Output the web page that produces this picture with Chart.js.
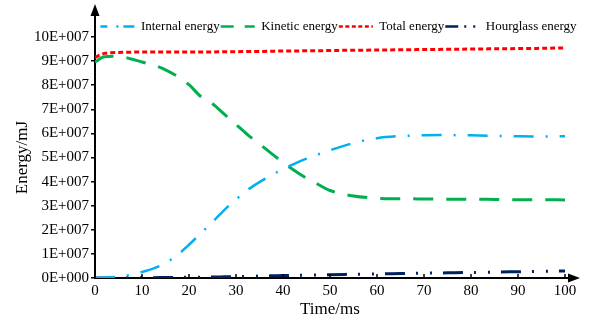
<!DOCTYPE html>
<html>
<head>
<meta charset="utf-8">
<script src="https://cdn.jsdelivr.net/npm/chart.js@4/dist/chart.umd.min.js"></script>
<style>
html,body{margin:0;padding:0;background:#fff;}
#wrap{width:590px;height:324px;position:relative;}
</style>
</head>
<body>
<div id="wrap"><canvas id="c" width="590" height="324"></canvas></div>
<script>
// ---- data (energy in units of 1E+007 mJ) ----
const timeMs = [0, 2, 5, 7.5, 10, 12.5, 15, 17.5, 20, 22.5, 25, 27.5, 30, 32.5, 35, 37.5, 40, 42.5, 45, 47.5, 50, 55, 60, 65, 70, 75, 80, 85, 90, 95, 100];
const internalEnergy = [0, 0.02, 0.05, 0.13, 0.25, 0.4, 0.62, 0.95, 1.38, 1.85, 2.32, 2.82, 3.26, 3.66, 3.98, 4.26, 4.52, 4.75, 4.95, 5.13, 5.3, 5.6, 5.8, 5.89, 5.92, 5.93, 5.92, 5.9, 5.88, 5.87, 5.88];
const kineticEnergy = [8.96, 9.18, 9.2, 9.1, 8.96, 8.83, 8.64, 8.37, 8.02, 7.53, 7.23, 6.8, 6.37, 5.94, 5.56, 5.17, 4.8, 4.45, 4.14, 3.88, 3.63, 3.4, 3.31, 3.29, 3.28, 3.27, 3.27, 3.26, 3.25, 3.25, 3.24];
const totalEnergy = [9.16, 9.32, 9.36, 9.37, 9.38, 9.38, 9.38, 9.38, 9.38, 9.38, 9.38, 9.39, 9.39, 9.4, 9.4, 9.41, 9.42, 9.42, 9.43, 9.43, 9.44, 9.45, 9.46, 9.47, 9.48, 9.49, 9.5, 9.51, 9.52, 9.53, 9.55];
const hourglassEnergy = [0, 0, 0.005, 0.008, 0.01, 0.015, 0.02, 0.025, 0.03, 0.035, 0.04, 0.05, 0.06, 0.07, 0.08, 0.09, 0.1, 0.11, 0.12, 0.13, 0.14, 0.155, 0.17, 0.185, 0.2, 0.215, 0.23, 0.245, 0.26, 0.275, 0.29];
const seriesNames = ['Internal energy', 'Kinetic energy', 'Total energy', 'Hourglass energy'];
const xTickValues = [0, 10, 20, 30, 40, 50, 60, 70, 80, 90, 100];
const yTickLabels = ['0E+000', '1E+007', '2E+007', '3E+007', '4E+007', '5E+007', '6E+007', '7E+007', '8E+007', '9E+007', '10E+007'];

// legend sample dash patterns
const legendDashes = [[7, 9, 2, 5, 11], [13, 11, 10], [4, 2.5], [13, 6, 2, 7, 2, 5, 10]];

const pts = arr => arr.map((v, i) => ({x: timeMs[i], y: v}));
const FONT = "'Liberation Serif', 'Times New Roman', serif";

const axisPlugin = {
  id: 'axisArrows',
  beforeLayout(chart) {
    const lg = chart.legend;
    if (lg && !lg._patched) {
      const orig = lg.fit;
      lg.fit = function () { orig.call(this); this.height = 18; };
      lg._patched = true;
    }
  },
  afterLayout(chart) {
    const lg = chart.legend;
    if (lg) { lg.left += 56; lg.right += 56; }
  },
  afterDraw(chart) {
    const {ctx, chartArea: a} = chart;
    const xs = chart.scales.x;
    ctx.save();
    ctx.strokeStyle = '#000';
    ctx.fillStyle = '#000';
    ctx.lineWidth = 2;
    ctx.setLineDash([]);
    ctx.beginPath();
    ctx.moveTo(a.left, a.top);
    ctx.lineTo(a.left, 12);
    ctx.stroke();
    ctx.beginPath();
    ctx.moveTo(a.left, 4);
    ctx.lineTo(a.left - 4.5, 16);
    ctx.lineTo(a.left + 4.5, 16);
    ctx.closePath();
    ctx.fill();
    ctx.beginPath();
    ctx.moveTo(a.right, a.bottom);
    ctx.lineTo(572, a.bottom);
    ctx.stroke();
    ctx.beginPath();
    ctx.moveTo(580, a.bottom);
    ctx.lineTo(568, a.bottom - 4.5);
    ctx.lineTo(568, a.bottom + 4.5);
    ctx.closePath();
    ctx.fill();
    ctx.lineWidth = 1.5;
    xs.ticks.forEach(t => {
      const px = xs.getPixelForValue(t.value);
      ctx.beginPath();
      ctx.moveTo(px, a.bottom);
      ctx.lineTo(px, a.bottom - 4);
      ctx.stroke();
    });
    ctx.restore();
  }
};

new Chart(document.getElementById('c'), {
  type: 'line',
  data: {
    datasets: [
      {label: seriesNames[0], data: pts(internalEnergy), borderColor: '#00B0F0', backgroundColor: '#00B0F0', borderWidth: 2.5, borderDash: [20, 12, 2, 12], pointRadius: 0, cubicInterpolationMode: 'monotone', fill: false},
      {label: seriesNames[1], data: pts(kineticEnergy), borderColor: '#00B050', backgroundColor: '#00B050', borderWidth: 3, borderDash: [20, 13], pointRadius: 0, cubicInterpolationMode: 'monotone', fill: false},
      {label: seriesNames[2], data: pts(totalEnergy), borderColor: '#FF0000', backgroundColor: '#FF0000', borderWidth: 3, borderDash: [5, 3], pointRadius: 0, cubicInterpolationMode: 'monotone', fill: false},
      {label: seriesNames[3], data: pts(hourglassEnergy), borderColor: '#002060', backgroundColor: '#002060', borderWidth: 3, borderDash: [20, 11, 2, 12, 2, 11], pointRadius: 0, cubicInterpolationMode: 'monotone', fill: false}
    ]
  },
  options: {
    responsive: false,
    animation: false,
    devicePixelRatio: 1,
    layout: {padding: {left: 0, right: 25, top: 19, bottom: 0}},
    plugins: {
      tooltip: {enabled: false},
      legend: {
        display: true,
        position: 'top',
        align: 'center',
        labels: {
          usePointStyle: true,
          pointStyle: 'line',
          pointStyleWidth: 34,
          padding: 1,
          color: '#000',
          font: {family: FONT, size: 13},
          generateLabels(chart) {
            const items = Chart.defaults.plugins.legend.labels.generateLabels(chart);
            items.forEach((it, i) => {
              it.lineDash = legendDashes[i];
              it.lineDashOffset = 0;
              it.lineCap = 'butt';
              it.lineWidth = 2.5;
              it.strokeStyle = chart.data.datasets[i].borderColor;
              it.fillStyle = chart.data.datasets[i].borderColor;
            });
            return items;
          }
        }
      }
    },
    scales: {
      x: {
        type: 'linear',
        min: 0, max: 100,
        afterFit(s) { s.height = 46; },
        afterBuildTicks(s) { s.ticks = xTickValues.map(v => ({value: v})); },
        ticks: {color: '#000', font: {family: FONT, size: 15}, padding: 4, maxRotation: 0,
          callback: v => String(v)},
        grid: {display: true, drawOnChartArea: false, drawTicks: false},
        border: {display: true, color: '#000', width: 2},
        title: {display: true, text: 'Time/ms', color: '#000', font: {family: FONT, size: 17}, padding: {top: 0, bottom: 4}}
      },
      y: {
        type: 'linear',
        min: 0, max: 10,
        afterFit(s) { s.width = 95; },
        afterBuildTicks(s) { s.ticks = yTickLabels.map((l, i) => ({value: i})); },
        ticks: {color: '#000', font: {family: FONT, size: 15}, padding: 2,
          callback: (v, i) => yTickLabels[i]},
        grid: {display: true, drawOnChartArea: false, drawTicks: true, tickLength: 4, color: '#000', lineWidth: 1.5},
        border: {display: true, color: '#000', width: 2},
        title: {display: true, text: 'Energy/mJ', color: '#000', font: {family: FONT, size: 17}, padding: {top: 12, bottom: 0}}
      }
    }
  },
  plugins: [axisPlugin]
});
</script>
</body>
</html>
